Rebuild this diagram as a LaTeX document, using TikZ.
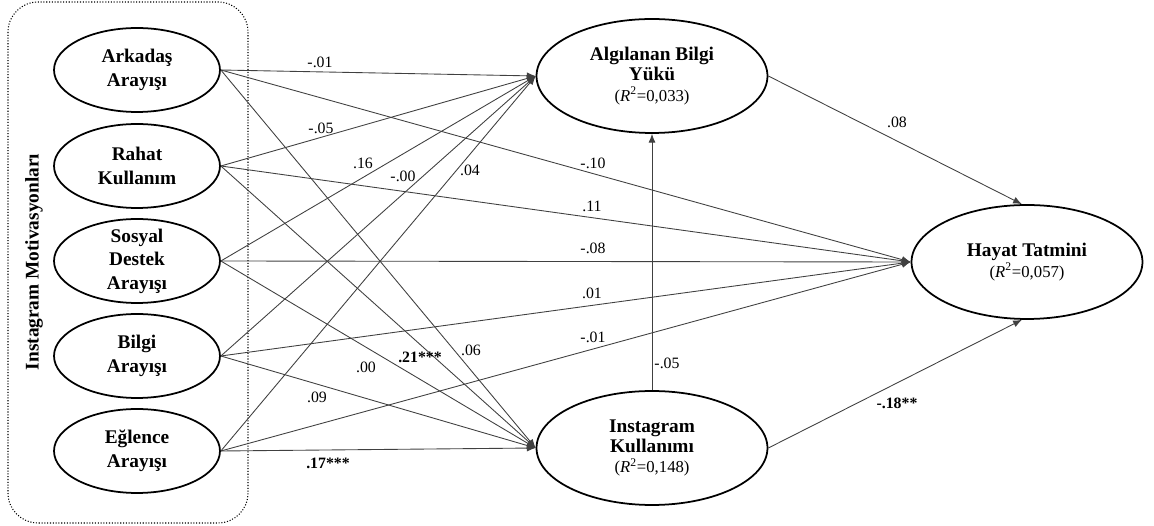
\documentclass[tikz,border=0pt]{standalone}
\usepackage{fontspec}
\setmainfont{Liberation Serif}
\usetikzlibrary{shapes.geometric,arrows.meta}

\newcommand{\rsq}[1]{{\fontsize{9.5}{11.5}\selectfont(\textit{R}\textsuperscript{2}=#1)}}

\begin{document}
\begin{tikzpicture}[x=0.02cm, y=-0.02cm,
    every node/.style={font=\fontsize{11}{13}\selectfont},
    motiv/.style={ellipse, draw, line width=1pt, inner xsep=0pt, inner ysep=-4pt,
        minimum width=3.32cm, minimum height=1.68cm, align=center,
        font=\bfseries\fontsize{11}{13.4}\selectfont},
    latent/.style={ellipse, draw, line width=1pt, inner sep=0pt,
        minimum width=4.62cm, minimum height=2.28cm, align=center,
        font=\fontsize{11}{11.5}\selectfont},
    link/.style={draw=black!75, line width=0.5pt, -{Latex[length=5pt,width=4pt]}},
    coef/.style={inner sep=0pt, font=\fontsize{9}{10}\selectfont},
    sig/.style={inner sep=0pt, font=\bfseries\fontsize{9}{10}\selectfont}]
    \useasboundingbox (0,0) rectangle (1154,526);

    % motivations
    \draw[densely dotted, line width=0.6pt, rounded corners=0.6cm] (8,2) rectangle (248,523);
    \node[rotate=90, font=\bfseries\fontsize{11}{13}\selectfont] (grp) at (34,262) {Instagram Motivasyonları};

    \node[motiv] (ark) at (137,70) {Arkadaş\\Arayışı};
    \node[motiv] (rah) at (137,166) {Rahat\\Kullanım};
    \node[motiv] (sos) at (137,261) {Sosyal\\Destek\\Arayışı};
    \node[motiv] (bil) at (137,356) {Bilgi\\Arayışı};
    \node[motiv] (egl) at (137,451) {Eğlence\\Arayışı};

    \node[latent] (alg) at (652,76) {\textbf{Algılanan Bilgi}\\\textbf{Yükü}\\\rsq{0,033}};
    \node[latent] (kul) at (652,448) {\textbf{Instagram}\\\textbf{Kullanımı}\\\rsq{0,148}};
    \node[latent] (hay) at (1027,262) {\textbf{Hayat Tatmini}\\\rsq{0,057}};

    % to Algilanan Bilgi Yuku
    \draw[link] (ark.east) -- (alg.west) node[coef] (a1) at (320,62) {-.01};
    \draw[link] (rah.east) -- (alg.west) node[coef] (a2) at (321,128) {-.05};
    \draw[link] (sos.east) -- (alg.west) node[coef] (a3) at (363,163) {.16};
    \draw[link] (bil.east) -- (alg.west) node[coef] (a4) at (403,176) {-.00};
    \draw[link] (egl.east) -- (alg.west) node[coef] (a5) at (470,170) {.04};

    % to Hayat Tatmini
    \draw[link] (ark.east) -- (hay.west) node[coef] (h1) at (593,163) {-.10};
    \draw[link] (rah.east) -- (hay.west) node[coef] (h2) at (592,206) {.11};
    \draw[link] (sos.east) -- (hay.west) node[coef] (h3) at (593,248) {-.08};
    \draw[link] (bil.east) -- (hay.west) node[coef] (h4) at (592,293) {.01};
    \draw[link] (egl.east) -- (hay.west) node[coef] (h5) at (593,337) {-.01};

    % to Instagram Kullanimi
    \draw[link] (ark.east) -- (kul.west) node[coef] (k1) at (471,350) {.06};
    \draw[link] (rah.east) -- (kul.west) node[sig] (k2) at (420,357) {.21***};
    \draw[link] (sos.east) -- (kul.west) node[coef] (k3) at (366,367) {.00};
    \draw[link] (bil.east) -- (kul.west) node[coef] (k4) at (317,397) {.09};
    \draw[link] (egl.east) -- (kul.west) node[sig] (k5) at (328,463) {.17***};

    % mediators
    \draw[link] (kul.north) -- (alg.south) node[coef] (m1) at (667,363) {-.05};
    \draw[link] (alg.east) -- (hay.95) node[coef] (m2) at (897,122) {.08};
    \draw[link] (kul.east) -- (hay.265) node[sig] (m3) at (897,403) {-.18**};
\end{tikzpicture}
\end{document}
